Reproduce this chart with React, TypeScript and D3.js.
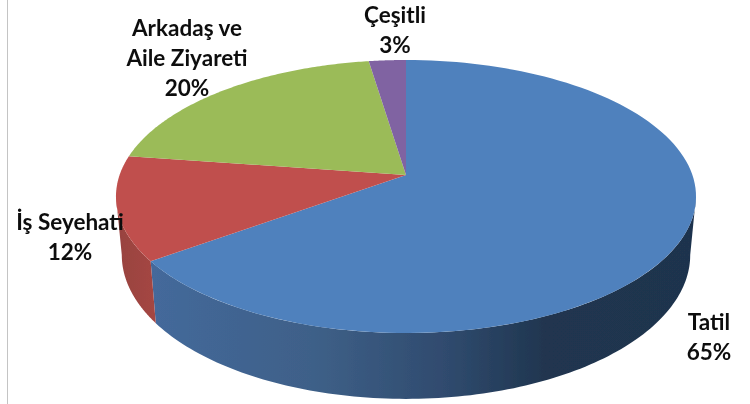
import React from "react";
import * as d3 from "d3";

const categories = ["Tatil", "İş Seyehati", "Arkadaş ve Aile Ziyareti", "Çeşitli"];
const values = [65, 12.3, 20.3, 2.4];
const topColors = ["#4f81bd", "#c0504d", "#9bbb59", "#8064a2"];
const labelLines = [["Tatil", "65%"], ["İş Seyehati", "12%"], ["Arkadaş ve", "Aile Ziyareti", "20%"], ["Çeşitli", "3%"]];
const labelAnchors = [[709, 322], [70, 222], [187, 28], [395, 15]];

const CX = 406, CY = 175, A = 286.4, B = 133.1, K = 0.1575, SHRINK = 0.98, STRETCH = 1.055, DROP = 47.6;
const project = (t: number): [number, number] => {
  const u = Math.sin(t), v = Math.cos(t), w = 1 + K * v;
  return [CX + (A * u) / w, CY - (B * v) / w];
};
const lower = (p: [number, number]): [number, number] => [CX + (p[0] - CX) * SHRINK, p[1] * STRETCH + DROP];
const sample = (a: number, b: number) => d3.range(0, 121).map((i) => project(a + ((b - a) * i) / 120));
const line = d3.line();
const pieGen = d3.pie<number>().sort(null).value((d) => d);
const arcs = pieGen(values);

const RIGHT = Math.acos(-K);
const LEFT = 2 * Math.PI - RIGHT;

export default function App() {
  const sideSpans = arcs
    .map((a, i) => ({ i, from: Math.max(a.startAngle, RIGHT), to: Math.min(a.endAngle, LEFT) }))
    .filter((s) => s.to > s.from);
  return (
    <svg width={750} height={404} style={{ position: "absolute", left: 0, top: 0, background: "#fff" }}>
      <defs>
        <linearGradient id="blueSide" gradientUnits="userSpaceOnUse" x1={150} x2={696} y1={0} y2={0}>
          <stop offset="0" stopColor="#44699b" />
          <stop offset="0.3" stopColor="#3e6088" />
          <stop offset="0.55" stopColor="#2f4a6d" />
          <stop offset="0.72" stopColor="#203650" />
          <stop offset="1" stopColor="#1f334d" />
        </linearGradient>
        <linearGradient id="redSide" gradientUnits="userSpaceOnUse" x1={118} x2={156} y1={0} y2={0}>
          <stop offset="0" stopColor="#984340" />
          <stop offset="1" stopColor="#a54643" />
        </linearGradient>
        <filter id="soft" x="-5%" y="-5%" width="110%" height="110%">
          <feGaussianBlur stdDeviation="0.45" />
        </filter>
      </defs>
      <line x1={7.5} x2={7.5} y1={0} y2={404} stroke="#c4c4c4" strokeWidth={1} />
      <g filter="url(#soft)">
        {sideSpans.map((s) => {
          const top = sample(s.from, s.to);
          const bottom = top.map(lower).reverse();
          return (
            <path
              key={s.i}
              d={line([...top, ...bottom])! + "Z"}
              fill={s.i === 0 ? "url(#blueSide)" : "url(#redSide)"}
            />
          );
        })}
        {arcs.map((a, i) => (
          <path
            key={categories[i]}
            d={line([[CX, CY], ...sample(a.startAngle, a.endAngle)])! + "Z"}
            fill={topColors[i]}
          />
        ))}
        {labelLines.map((lines, i) => (
          <text
            key={categories[i]}
            textAnchor="middle"
            fontFamily="Lato"
            fontWeight={700}
            fontSize={22.5}
            fill="#111"
          >
            {lines.map((t, j) => (
              <tspan key={t} x={labelAnchors[i][0]} y={labelAnchors[i][1] + j * 30 + 8}>
                {t}
              </tspan>
            ))}
          </text>
        ))}
      </g>
    </svg>
  );
}
